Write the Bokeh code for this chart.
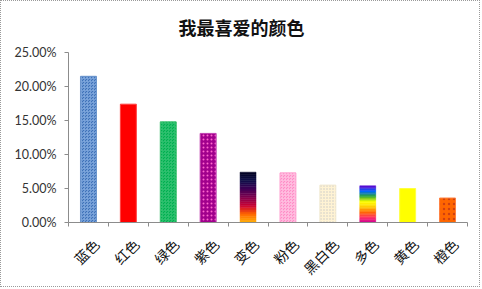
import math
from bokeh.plotting import figure
from bokeh.models import FixedTicker, NumeralTickFormatter, Range1d, Title
from bokeh.embed import file_html
from bokeh.resources import INLINE

# ---- data ----
title_text = "我最喜爱的颜色"
categories = ["蓝色", "红色", "绿色", "紫色", "变色", "粉色", "黑白色", "多色", "黄色", "橙色"]
values = [0.215, 0.174, 0.148, 0.131, 0.074, 0.073, 0.055, 0.054, 0.050, 0.036]
y_ticks = [0.0, 0.05, 0.10, 0.15, 0.20, 0.25]

# ---- styles ----
bar_styles = {
    "蓝色": dict(fill_color="#3f72b8", hatch_pattern="criss_cross", hatch_color="#7ea6dc", hatch_scale=3, hatch_weight=0.8, line_color="#6a94cc"),
    "红色": dict(fill_color="#ff0000", line_color="#ff4040"),
    "绿色": dict(fill_color="#00b050", hatch_pattern="criss_cross", hatch_color="#30c070", hatch_scale=3, hatch_weight=0.8, line_color="#40c070"),
    "紫色": dict(fill_color="#a0008c", hatch_pattern="dot", hatch_color="#ff66cc", hatch_scale=4, hatch_weight=1, line_color="#c040b0"),
    "粉色": dict(fill_color="#ff8cc6", hatch_pattern="criss_cross", hatch_color="#ffbfe0", hatch_scale=3, hatch_weight=0.8, line_color="#ffa8d4"),
    "黑白色": dict(fill_color="#fff3d4", hatch_pattern="dot", hatch_color="#c8c8c8", hatch_scale=3, hatch_weight=1, line_color="#f0e8d0"),
    "黄色": dict(fill_color="#ffff00", line_color="#ffff40"),
    "橙色": dict(fill_color="#ff6600", hatch_pattern="dot", hatch_color="#d04010", hatch_scale=5, hatch_weight=1, line_color="#ff8040"),
}
gradient_stops = {
    # bottom -> top
    "变色": ["#ffb000", "#ff6a00", "#cc0033", "#80004d", "#400055", "#10104a", "#000020"],
    "多色": ["#cc0099", "#ff3366", "#ff6600", "#ffcc00", "#ffff00", "#33aa33", "#0066ff", "#6600cc"],
}
label_shift = 0.2  # shift of category labels (in category widths) to mimic rotated-label anchoring


def lerp_color(stops, t):
    t = min(max(t, 0.0), 1.0)
    pos = t * (len(stops) - 1)
    i = min(int(pos), len(stops) - 2)
    f = pos - i
    c1 = [int(stops[i][k:k + 2], 16) for k in (1, 3, 5)]
    c2 = [int(stops[i + 1][k:k + 2], 16) for k in (1, 3, 5)]
    c = [round(a + (b - a) * f) for a, b in zip(c1, c2)]
    return "#%02x%02x%02x" % tuple(c)


p = figure(width=480, height=287, output_backend="svg", toolbar_location=None,
           x_range=Range1d(0, 10), y_range=Range1d(0, 0.25),
           min_border_left=67, min_border_right=14, min_border_top=51, min_border_bottom=66)
p.styles = {"border": "1px dotted #9a9a9a"}
p.outline_line_color = None
p.background_fill_color = "white"
p.border_fill_color = "white"
p.xgrid.visible = False
p.ygrid.visible = False

p.title = Title(text=title_text, align="left", vertical_align="top", text_font="Noto Sans CJK SC",
                text_font_size="18px", text_font_style="bold", text_color="#111111",
                offset=110, standoff=22)

bar_w = 0.4
for i, (cat, v) in enumerate(zip(categories, values)):
    x = i + 0.5
    if cat in gradient_stops:
        n = 24
        stops = gradient_stops[cat]
        bottoms = [v * k / n for k in range(n)]
        tops = [v * (k + 1) / n for k in range(n)]
        cols = [lerp_color(stops, (k + 0.5) / n) for k in range(n)]
        p.vbar(x=[x] * n, width=bar_w, bottom=bottoms, top=tops, fill_color=cols, line_color=cols, line_width=0.5)
    else:
        st = dict(bar_styles[cat])
        p.vbar(x=[x], width=bar_w, top=[v], bottom=[0], **st)

# y axis
ya = p.yaxis[0]
ya.ticker = FixedTicker(ticks=y_ticks, minor_ticks=[])
ya.formatter = NumeralTickFormatter(format="0.00%")
ya.axis_line_color = "#8c8c8c"
ya.major_tick_line_color = "#8c8c8c"
ya.major_tick_out = 4
ya.major_tick_in = 0
ya.minor_tick_line_color = None
ya.major_label_text_font = "Lato"
ya.major_label_text_font_size = "12.5px"
ya.major_label_text_color = "#333333"
ya.major_label_standoff = 8

# x axis: boundary ticks drawn as minor ticks, labels on hidden major ticks
label_pos = [i + 0.5 + label_shift for i in range(len(categories))]
xa = p.xaxis[0]
xa.ticker = FixedTicker(ticks=label_pos, minor_ticks=list(range(len(categories) + 1)))
xa.major_label_overrides = {pos: c for pos, c in zip(label_pos, categories)}
xa.major_label_orientation = math.pi / 4
xa.major_tick_line_color = None
xa.minor_tick_line_color = "#8c8c8c"
xa.minor_tick_out = 4
xa.minor_tick_in = 0
xa.axis_line_color = "#8c8c8c"
xa.major_label_text_font = "Noto Sans CJK SC"
xa.major_label_text_font_size = "14px"
xa.major_label_text_color = "#111111"
xa.major_label_standoff = 13

open("out.html", "w").write(file_html(p, INLINE))
